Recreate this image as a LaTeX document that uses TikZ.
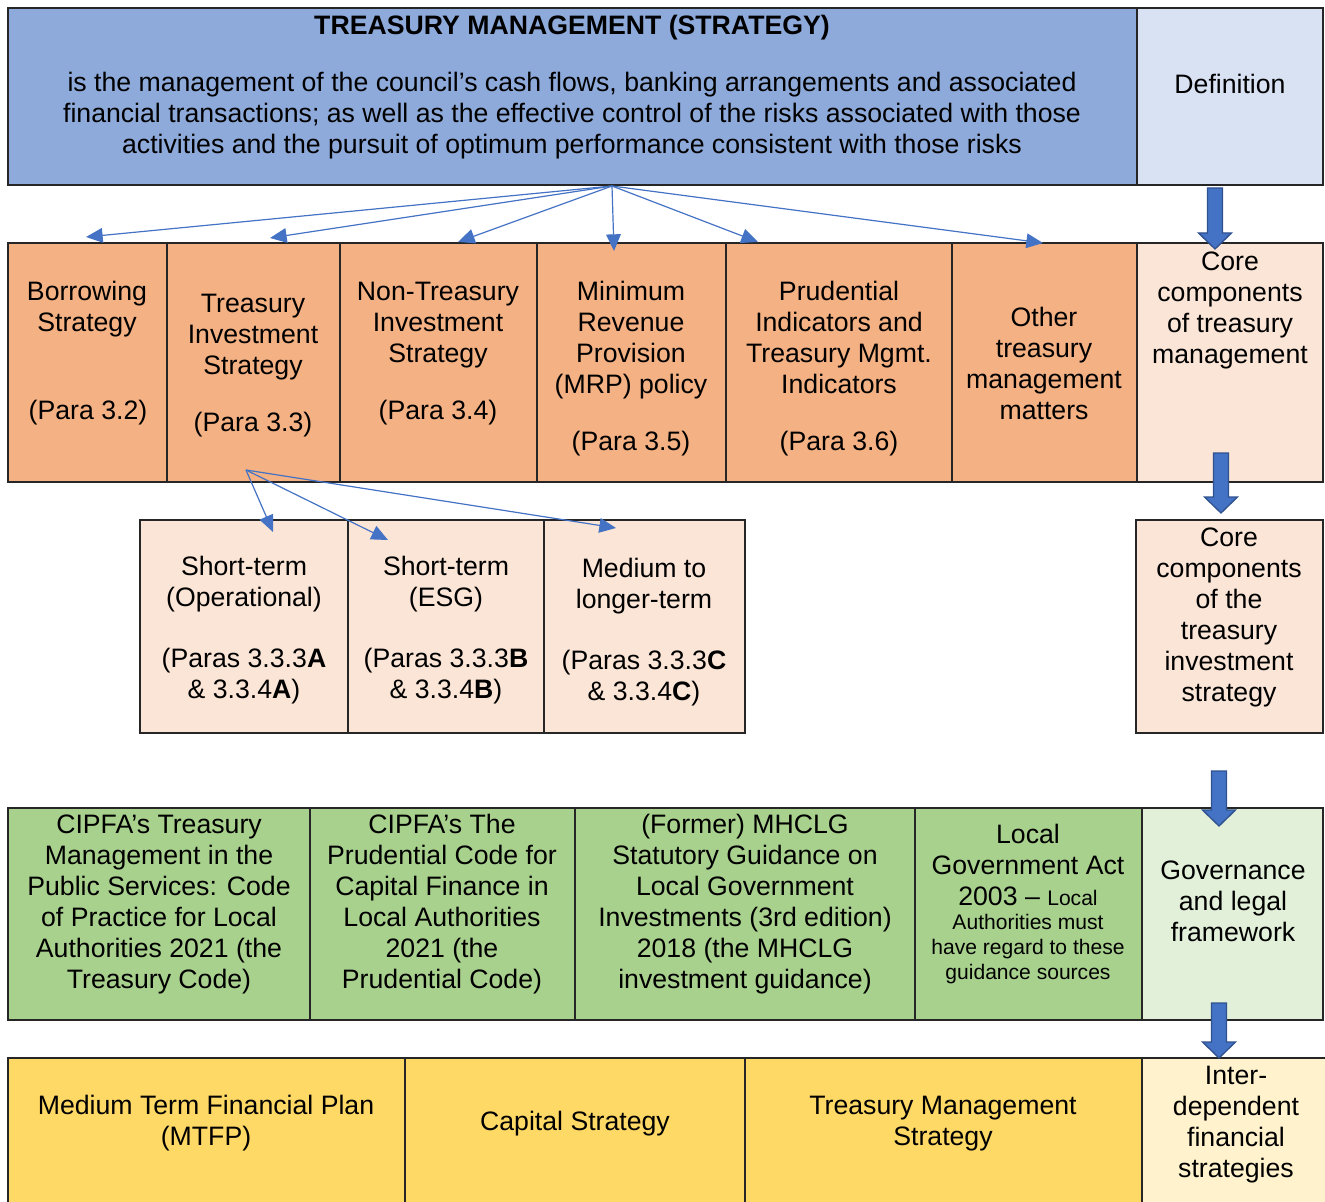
\documentclass[tikz,border=0pt]{standalone}
\usepackage{fontspec}
\setmainfont{Liberation Sans}
\usetikzlibrary{arrows.meta,fit}
\definecolor{tmblue}{HTML}{8EAADB}
\definecolor{defblue}{HTML}{D9E2F3}
\definecolor{orng}{HTML}{F4B183}
\definecolor{lorng}{HTML}{FBE5D6}
\definecolor{grn}{HTML}{A9D18E}
\definecolor{lgrn}{HTML}{E2F0D9}
\definecolor{ylw}{HTML}{FFD966}
\definecolor{lylw}{HTML}{FFF2CC}
\definecolor{arr}{HTML}{4472C4}
\definecolor{arrb}{HTML}{2F528F}
\tikzset{
 cell/.style={draw=black!85, line width=1pt, inner sep=0pt, outer sep=0pt},
 txt/.style={align=center, inner sep=0pt, yshift=-2.25pt, font=\fontsize{20}{23.25}\selectfont},
 stxt/.style={align=center, inner sep=0pt, yshift=-2.25pt, font=\fontsize{15.8}{18.75}\selectfont},
 fan/.style={draw=arr, line width=0.9pt, -{Triangle[length=12.5pt,width=11pt]}},
 barrow/.style={draw=arrb, line width=1pt, fill=arr},
}
\newcommand{\mkcell}[6]{\node[cell, fill=#6, fit={(#2,#3)(#4,#5)}] (#1) {};}
\newcommand{\barr}[3]{\draw[barrow] (#1-7.5,#2) -- (#1+7.5,#2) -- (#1+7.5,#3-16) -- (#1+16.5,#3-16) -- (#1,#3) -- (#1-16.5,#3-16) -- (#1-7.5,#3-16) -- cycle;}
\begin{document}
\begin{tikzpicture}[x=0.75pt,y=-0.75pt]
\useasboundingbox (0,0) rectangle (1325,1202);
\clip (0,0) rectangle (1325,1202);
% cells
\mkcell{top}{8}{8}{1137}{185}{tmblue}
\mkcell{def}{1137}{8}{1323}{185}{defblue}
\mkcell{c1}{8}{243}{167}{482}{orng}
\mkcell{c2}{167}{243}{340}{482}{orng}
\mkcell{c3}{340}{243}{537}{482}{orng}
\mkcell{c4}{537}{243}{726}{482}{orng}
\mkcell{c5}{726}{243}{952}{482}{orng}
\mkcell{c6}{952}{243}{1137}{482}{orng}
\mkcell{c7}{1137}{243}{1323}{482}{lorng}
\mkcell{s1}{140}{520}{348}{733}{lorng}
\mkcell{s2}{348}{520}{544}{733}{lorng}
\mkcell{s3}{544}{520}{745}{733}{lorng}
\mkcell{sr}{1136}{520}{1323}{733}{lorng}
\mkcell{g1}{8}{808}{310}{1020}{grn}
\mkcell{g2}{310}{808}{575}{1020}{grn}
\mkcell{g3}{575}{808}{915}{1020}{grn}
\mkcell{g4}{915}{808}{1142}{1020}{grn}
\mkcell{g5}{1142}{808}{1323}{1020}{lgrn}
\mkcell{y1}{8}{1058}{405}{1215}{ylw}
\mkcell{y2}{405}{1058}{745}{1215}{ylw}
\mkcell{y3}{745}{1058}{1142}{1215}{ylw}
\mkcell{y4}{1142}{1058}{1335}{1215}{lylw}
% texts
\node[txt] (title) at (572,25) {\bfseries TREASURY MANAGEMENT (STRATEGY)};
\node[txt] (defn) at (572,113) {is the management of the council’s cash flows, banking arrangements and associated\\financial transactions; as well as the effective control of the risks associated with those\\activities and the pursuit of optimum performance consistent with those risks};
\node[txt] (deflab) at (1230,81) {Definition};
\node[txt] (bor) at (87,306.5) {Borrowing\\Strategy};
\node[txt] (borp) at (88,410) {(Para 3.2)};
\node[txt] (tis) at (253,334) {Treasury\\Investment\\Strategy};
\node[txt] (tisp) at (253,422) {(Para 3.3)};
\node[txt] (nts) at (438,322) {Non-Treasury\\Investment\\Strategy};
\node[txt] (ntsp) at (438,410) {(Para 3.4)};
\node[txt] (mrp) at (631,337.5) {Minimum\\Revenue\\Provision\\(MRP) policy};
\node[txt] (mrpp) at (631,441) {(Para 3.5)};
\node[txt] (pru) at (839,334.5) {Prudential\\Indicators and\\Treasury Mgmt.\\Indicators};
\node[txt] (prup) at (839,441) {(Para 3.6)};
\node[txt] (oth) at (1044,360.5) {Other\\treasury\\management\\matters};
\node[txt] (core) at (1230,307) {Core\\components\\of treasury\\management};
\node[txt] (st1) at (244,581.5) {Short-term\\(Operational)};
\node[txt] (st1p) at (244,673.5) {(Paras 3.3.3\textbf{A}\\\& 3.3.4\textbf{A})};
\node[txt] (st2) at (446,581.5) {Short-term\\(ESG)};
\node[txt] (st2p) at (446,673.5) {(Paras 3.3.3\textbf{B}\\\& 3.3.4\textbf{B})};
\node[txt] (mlt) at (644,583.5) {Medium to\\longer-term};
\node[txt] (mltp) at (644,675.5) {(Paras 3.3.3\textbf{C}\\\& 3.3.4\textbf{C})};
\node[txt] (corei) at (1229,614) {Core\\components\\of the\\treasury\\investment\\strategy};
\node[txt] (cip1) at (159,901) {CIPFA’s Treasury\\Management in the\\Public Services: Code\\of Practice for Local\\Authorities 2021 (the\\Treasury Code)};
\node[txt] (cip2) at (442,901) {CIPFA’s The\\Prudential Code for\\Capital Finance in\\Local Authorities\\2021 (the\\Prudential Code)};
\node[txt] (mhc) at (745,901) {(Former) MHCLG\\Statutory Guidance on\\Local Government\\Investments (3rd edition)\\2018 (the MHCLG\\investment guidance)};
\node[txt] (lga) at (1028,861.5) {Local\\Government Act\\2003 – {\fontsize{15.8}{18.75}\selectfont Local}};
\node[stxt] (lgas) at (1028,946) {Authorities must\\have regard to these\\guidance sources};
\node[txt] (gov) at (1233,898) {Governance\\and legal\\framework};
\node[txt] (mtfp) at (206,1120.5) {Medium Term Financial Plan\\(MTFP)};
\node[txt] (caps) at (575,1121) {Capital Strategy};
\node[txt] (tms) at (943,1120.5) {Treasury Management\\Strategy};
\node[txt] (inter) at (1236,1122) {Inter-\\dependent\\financial\\strategies};
% fan arrows
\coordinate (fs) at (612,186);
\coordinate (t1) at (86,237);
\coordinate (t2) at (270,238);
\coordinate (t3) at (458,242);
\coordinate (t4) at (614,251);
\coordinate (t5) at (758,242);
\coordinate (t6) at (1043,243);
\foreach \t in {t1,t2,t3,t4,t5,t6} \draw[fan] (fs) -- (\t);
\coordinate (ss) at (246,470);
\coordinate (u1) at (273,532);
\coordinate (u2) at (388,540);
\coordinate (u3) at (616,528);
\foreach \t in {u1,u2,u3} \draw[fan] (ss) -- (\t);
% block arrows
\barr{1215}{188}{249}
\barr{1221}{453}{513}
\barr{1219}{771}{826}
\barr{1219}{1003}{1058}
\end{tikzpicture}
\end{document}
